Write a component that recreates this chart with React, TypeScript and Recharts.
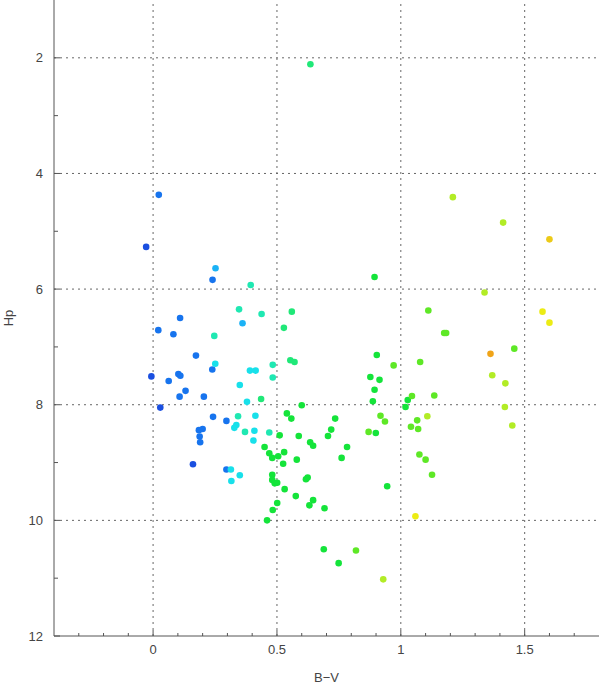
import React from 'react';
import { ScatterChart, Scatter, XAxis, YAxis, ReferenceLine } from 'recharts';

// star samples as [B-V, Hp], grouped by the dot colour used in the plot
const DARK_BLUE_STARS: [number, number][] = [
  [-0.028, 5.27], [-0.007, 7.51], [0.029, 8.05], [0.161, 9.03],
];
const BLUE_STARS: [number, number][] = [
  [0.023, 4.37], [0.24, 5.84], [0.109, 6.5], [0.021, 6.71], [0.082, 6.78],
  [0.173, 7.15], [0.239, 7.39], [0.102, 7.47], [0.11, 7.5], [0.063, 7.59],
  [0.131, 7.76], [0.107, 7.86], [0.205, 7.86], [0.242, 8.21], [0.296, 8.28],
  [0.2, 8.42], [0.185, 8.44], [0.188, 8.55], [0.19, 8.65], [0.296, 9.12],
];
const LIGHT_BLUE_STARS: [number, number][] = [
  [0.252, 5.64], [0.361, 6.59],
];
const CYAN_STARS: [number, number][] = [
  [0.251, 7.29], [0.391, 7.41], [0.414, 7.41], [0.35, 7.66], [0.379, 7.95],
  [0.413, 8.19], [0.336, 8.35], [0.328, 8.4], [0.409, 8.45], [0.405, 8.62],
  [0.314, 9.12], [0.35, 9.22], [0.316, 9.32],
];
const TEAL_STARS: [number, number][] = [
  [0.394, 5.93], [0.347, 6.35], [0.438, 6.43], [0.247, 6.81], [0.483, 7.31],
  [0.483, 7.53], [0.343, 8.2], [0.371, 8.47], [0.469, 8.48],
];
const SPRING_STARS: [number, number][] = [
  [0.635, 2.11], [0.56, 6.39], [0.528, 6.67], [0.554, 7.23], [0.571, 7.26],
  [0.436, 7.9],
];
const GREEN_STARS: [number, number][] = [
  [0.6, 8.01], [0.54, 8.15], [0.558, 8.24], [0.511, 8.53], [0.588, 8.54],
  [0.706, 8.54], [0.634, 8.65], [0.646, 8.71], [0.45, 8.73], [0.469, 8.84],
  [0.529, 8.82], [0.481, 8.92], [0.505, 8.89], [0.58, 8.95], [0.525, 9.02],
  [0.481, 9.21], [0.481, 9.3], [0.491, 9.36], [0.501, 9.35], [0.624, 9.26],
  [0.617, 9.29], [0.531, 9.46], [0.576, 9.58], [0.646, 9.65], [0.631, 9.74],
  [0.692, 9.79], [0.501, 9.7], [0.483, 9.82], [0.46, 10.0], [0.689, 10.5],
  [0.914, 7.57], [0.894, 7.74], [0.887, 7.94], [0.735, 8.24], [0.719, 8.43],
  [0.899, 8.49], [0.783, 8.73], [0.761, 8.92], [0.945, 9.41], [1.028, 7.92],
  [1.019, 8.04], [0.749, 10.74], [0.894, 5.79], [0.903, 7.14], [0.877, 7.52],
];
const LIME_STARS: [number, number][] = [
  [0.918, 8.19], [0.936, 8.29], [0.87, 8.47], [1.045, 7.85], [1.135, 7.84],
  [1.066, 8.27], [1.041, 8.38], [1.07, 8.42], [1.075, 8.86], [1.1, 8.95],
  [1.126, 9.21], [0.819, 10.52], [1.111, 6.37], [1.175, 6.76], [1.183, 6.76],
  [1.458, 7.03], [0.971, 7.32], [1.078, 7.26],
];
const YELLOW_GREEN_STARS: [number, number][] = [
  [1.107, 8.2], [1.422, 7.63], [1.42, 8.04], [1.45, 8.36], [0.929, 11.02],
  [1.21, 4.41], [1.413, 4.85], [1.338, 6.06], [1.369, 7.49],
];
const YELLOW_STARS: [number, number][] = [
  [1.059, 9.93], [1.572, 6.39], [1.6, 6.58],
];
const GOLD_STARS: [number, number][] = [[1.6, 5.14]];
const ORANGE_STARS: [number, number][] = [[1.362, 7.12]];

const X_TICKS = [-0.3, -0.2, -0.1, 0, 0.1, 0.2, 0.3, 0.4, 0.5, 0.6, 0.7, 0.8, 0.9, 1, 1.1, 1.2, 1.3, 1.4, 1.5, 1.6, 1.7];
const X_LABELS = [0, 0.5, 1, 1.5];
const Y_TICKS = [2, 3, 4, 5, 6, 7, 8, 9, 10, 11];
const Y_LABELS = [2, 4, 6, 8, 10, 12];

const SERIES = [
  { name: 'darkBlue', stars: DARK_BLUE_STARS, color: '#1a4fe0' },
  { name: 'blue', stars: BLUE_STARS, color: '#1774ee' },
  { name: 'lightBlue', stars: LIGHT_BLUE_STARS, color: '#1bb2f6' },
  { name: 'cyan', stars: CYAN_STARS, color: '#18e0ea' },
  { name: 'teal', stars: TEAL_STARS, color: '#1fe8b2' },
  { name: 'spring', stars: SPRING_STARS, color: '#20e878' },
  { name: 'green', stars: GREEN_STARS, color: '#14e43a' },
  { name: 'lime', stars: LIME_STARS, color: '#5ee826' },
  { name: 'yellowGreen', stars: YELLOW_GREEN_STARS, color: '#b2ec26' },
  { name: 'yellow', stars: YELLOW_STARS, color: '#ecec14' },
  { name: 'gold', stars: GOLD_STARS, color: '#ecca18' },
  { name: 'orange', stars: ORANGE_STARS, color: '#f0a418' },
];

const AXIS = '#555';
const GRID = '#666';
const FONT = '"Liberation Sans", Arial, sans-serif';
const near = (a: number, list: number[]) => list.some((b) => Math.abs(a - b) < 1e-6);

const BottomTick = ({ x, y, payload }: any) => {
  const major = near(payload.value, X_LABELS);
  return (
    <g>
      <line x1={x} x2={x} y1={y} y2={y - (major ? 6 : 3)} stroke={AXIS} />
      {major && (
        <text x={x} y={y + 18} textAnchor="middle" fill="#444" fontSize={13} fontFamily={FONT}>
          {payload.value}
        </text>
      )}
    </g>
  );
};

const TopTick = ({ x, y, payload }: any) => {
  const major = near(payload.value, X_LABELS);
  return <line x1={x} x2={x} y1={y} y2={y + (major ? 6 : 3)} stroke={AXIS} />;
};

const LeftTick = ({ x, y, payload }: any) => {
  const major = near(payload.value, Y_LABELS);
  return (
    <g>
      <line x1={x} x2={x + (major ? 6 : 4)} y1={y} y2={y} stroke={AXIS} />
      {major && (
        <text x={x - 11} y={y} dy="0.35em" textAnchor="end" fill="#444" fontSize={13} fontFamily={FONT}>
          {payload.value}
        </text>
      )}
    </g>
  );
};

const RightTick = ({ x, y, payload }: any) => {
  const major = near(payload.value, Y_LABELS);
  return <line x1={x} x2={x - (major ? 6 : 4)} y1={y} y2={y} stroke={AXIS} />;
};

export default function App() {
  return (
    <div style={{ position: 'absolute', left: 0, top: 0, background: '#fff' }}>
      <ScatterChart width={600} height={684} margin={{ top: 0, right: 1, bottom: 0, left: 0 }}>
        <XAxis
          type="number"
          dataKey="bv"
          domain={[-0.4, 1.8]}
          ticks={[...X_TICKS]}
          interval={0}
          height={48}
          stroke={AXIS}
          tickLine={false}
          tickSize={0}
          tickMargin={0}
          tick={<BottomTick />}
          label={{ value: 'B−V', position: 'insideBottom', offset: 2, fill: '#444', fontSize: 13, fontFamily: FONT }}
        />
        <XAxis
          xAxisId="top"
          orientation="top"
          type="number"
          domain={[-0.4, 1.8]}
          ticks={[...X_TICKS]}
          interval={0}
          height={0}
          stroke={AXIS}
          tickLine={false}
          tickSize={0}
          tickMargin={0}
          tick={<TopTick />}
        />
        <YAxis
          type="number"
          dataKey="hp"
          domain={[1, 12]}
          reversed
          ticks={[...Y_TICKS, 12]}
          interval={0}
          width={54}
          stroke={AXIS}
          tickLine={false}
          tickSize={0}
          tickMargin={0}
          tick={<LeftTick />}
          label={{ value: 'Hp', angle: -90, position: 'insideLeft', offset: 8, fill: '#444', fontSize: 13, fontFamily: FONT, style: { textAnchor: 'middle' } }}
        />
        <YAxis
          yAxisId="right"
          orientation="right"
          type="number"
          domain={[1, 12]}
          reversed
          ticks={[...Y_TICKS]}
          interval={0}
          width={0}
          stroke={AXIS}
          tickLine={false}
          tickSize={0}
          tickMargin={0}
          tick={<RightTick />}
        />
        {X_LABELS.map((v) => (
          <ReferenceLine key={`x${v}`} x={v} stroke={GRID} strokeDasharray="2 4" />
        ))}
        {[2, 4, 6, 8, 10].map((v) => (
          <ReferenceLine key={`y${v}`} y={v} stroke={GRID} strokeDasharray="2 4" />
        ))}
        {SERIES.map((s) => (
          <Scatter
            key={s.name}
            name={s.name}
            data={s.stars.map(([bv, hp]) => ({ bv, hp }))}
            fill={s.color}
            isAnimationActive={false}
            shape={(p: any) => <circle cx={p.cx} cy={p.cy} r={3.3} fill={s.color} />}
          />
        ))}
      </ScatterChart>
    </div>
  );
}
